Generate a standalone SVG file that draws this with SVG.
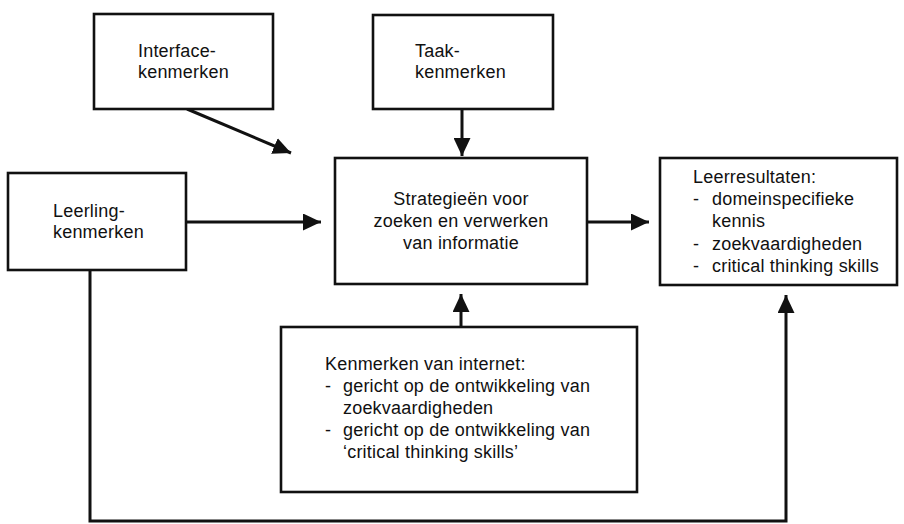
<svg xmlns="http://www.w3.org/2000/svg" width="904" height="524" viewBox="0 0 904 524">
<style>
.box{fill:#fff;stroke:#111;stroke-width:2.6}
.t{font-family:"Liberation Sans",Arial,sans-serif;font-size:18px;letter-spacing:0.2px;fill:#111}
.c{text-anchor:middle}
.con{fill:none;stroke:#111;stroke-width:3}
</style>
<defs>
<marker id="ah" markerUnits="userSpaceOnUse" markerWidth="19" markerHeight="17" refX="18" refY="8.5" orient="auto">
<path d="M0,0 L18,8.5 L0,17 Z" fill="#111"/>
</marker>
</defs>
<rect width="904" height="524" fill="#fff"/>
<g id="connectors">
<line class="con" x1="187" y1="109" x2="291" y2="153" marker-end="url(#ah)"/>
<line class="con" x1="462" y1="109" x2="462" y2="156" marker-end="url(#ah)"/>
<line class="con" x1="186" y1="222" x2="321" y2="222" marker-end="url(#ah)"/>
<line class="con" x1="587" y1="222" x2="649" y2="222" marker-end="url(#ah)"/>
<line class="con" x1="461" y1="327" x2="461" y2="294" marker-end="url(#ah)"/>
<polyline class="con" points="90,270 90,521 786,521 786,295" marker-end="url(#ah)"/>
</g>
<g id="interface">
<rect class="box" x="94" y="14" width="179" height="95"/>
<text class="t" x="138" y="57">Interface-</text>
<text class="t" x="138" y="78">kenmerken</text>
</g>
<g id="taak">
<rect class="box" x="373" y="15" width="180" height="94"/>
<text class="t" x="415" y="57">Taak-</text>
<text class="t" x="415" y="78">kenmerken</text>
</g>
<g id="leerling">
<rect class="box" x="8" y="173" width="178" height="97"/>
<text class="t" x="53" y="217">Leerling-</text>
<text class="t" x="53" y="238">kenmerken</text>
</g>
<g id="strategieen">
<rect class="box" x="335" y="158" width="252" height="126"/>
<text class="t c" x="461" y="205">Strategieën voor</text>
<text class="t c" x="461" y="227">zoeken en verwerken</text>
<text class="t c" x="461" y="249">van informatie</text>
</g>
<g id="leerresultaten">
<rect class="box" x="660" y="158" width="237" height="127"/>
<text class="t" x="693" y="183">Leerresultaten:</text>
<text class="t" x="693" y="205">-</text>
<text class="t" x="712" y="205">domeinspecifieke</text>
<text class="t" x="712" y="227">kennis</text>
<text class="t" x="693" y="250">-</text>
<text class="t" x="712" y="250">zoekvaardigheden</text>
<text class="t" x="693" y="272">-</text>
<text class="t" x="712" y="272">critical thinking skills</text>
</g>
<g id="internet">
<rect class="box" x="281" y="327" width="356" height="165"/>
<text class="t" x="325" y="370">Kenmerken van internet:</text>
<text class="t" x="325" y="392">-</text>
<text class="t" x="343" y="392">gericht op de ontwikkeling van</text>
<text class="t" x="343" y="414">zoekvaardigheden</text>
<text class="t" x="325" y="436">-</text>
<text class="t" x="343" y="436">gericht op de ontwikkeling van</text>
<text class="t" x="343" y="458">‘critical thinking skills’</text>
</g>
</svg>
